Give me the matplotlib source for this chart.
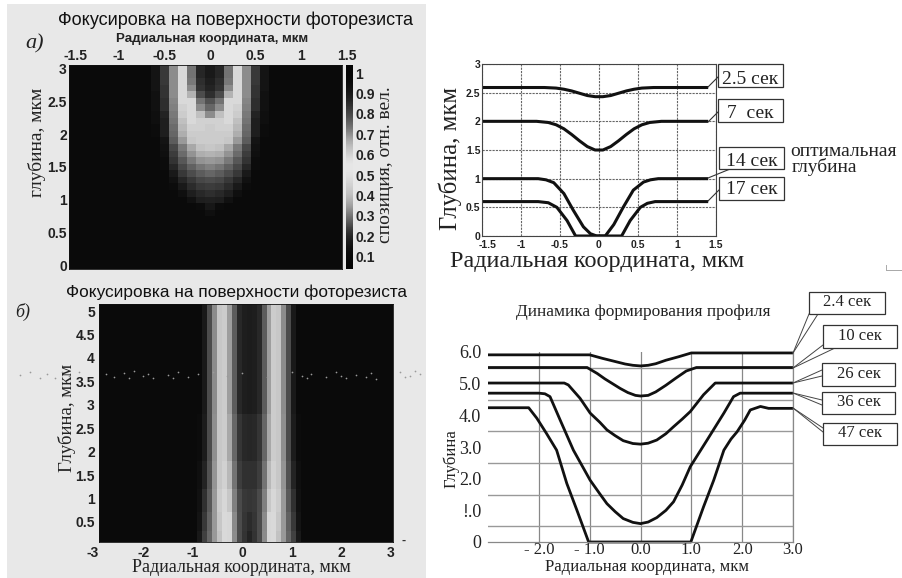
import numpy as np
import matplotlib
matplotlib.use('Agg')
import matplotlib.pyplot as plt
from matplotlib.patches import Rectangle
from matplotlib.transforms import ScaledTranslation

W, H = 902, 578
SANS = ['Liberation Sans', 'DejaVu Sans']
SERIF = ['Liberation Serif', 'DejaVu Serif']

TITLE_A = 'Фокусировка на поверхности фоторезиста'
TITLE_D = 'Динамика формирования профиля'
RADIAL = 'Радиальная координата, мкм'

# panel a: brightness, rows from depth 3.0 down, columns from centre outward
a_rows = [
    [.10, .15, .45, .85, .55, .22, .08],
    [.10, .15, .45, .85, .55, .22, .08],
    [.12, .18, .48, .85, .55, .22, .08],
    [.14, .20, .55, .85, .55, .20, .08],
    [.18, .30, .70, .85, .55, .20, .07],
    [.32, .45, .85, .85, .52, .18, .07],
    [.40, .55, .85, .82, .50, .18, .07],
    [.55, .75, .85, .80, .48, .14, .06],
    [.82, .82, .85, .75, .45, .12, .06],
    [.80, .82, .82, .72, .42, .12, .05],
    [.80, .80, .80, .68, .40, .12, .05],
    [.80, .80, .78, .60, .36, .08, .04],
    [.78, .76, .66, .48, .28, .07, .04],
    [.70, .68, .58, .42, .24, .06, .04],
    [.60, .58, .48, .34, .20, .05, .04],
    [.50, .46, .38, .28, .15, .05, .04],
    [.40, .36, .30, .22, .10, .04, .04],
    [.30, .28, .22, .15, .07, .04, .04],
    [.24, .22, .17, .10, .05, .04, .04],
    [.18, .16, .12, .06, .04, .04, .04],
    [.13, .12, .07, .04, .04, .04, .04],
    [.09, .05, .04, .04, .04, .04, .04],
    [.06, .04, .04, .04, .04, .04, .04],
]
dark_level = .04
a_ticks_x = [-1.5, -1, -0.5, 0, 0.5, 1, 1.5]
a_ticks_y = [0, 0.5, 1, 1.5, 2, 2.5, 3]

# colourbar: brightness from bottom to top, with its labels
cbar_gray = [.02, .03, .04, .06, .10, .15, .22, .32, .42, .52, .62, .70, .76, .80, .84, .88, .90,
             .90, .86, .80, .74, .66, .56, .46, .38, .30, .24, .18, .12, .08, .05, .03, .02, .02]
cbar_ticks = [.1, .2, .3, .4, .5, .6, .7, .8, .9, 1]

# panel b: depth bands (lower edge first) and half profiles from centre outward
b_edges = [0.07, 0.3, 0.7, 1.2, 1.8, 2.8, 5.15]
b_rows = [
    [.14, .20, .30, .55, .84, .85, .76, .60, .40, .25, .10],
    [.17, .21, .30, .54, .84, .85, .78, .60, .38, .22, .08],
    [.21, .22, .29, .50, .78, .84, .80, .60, .35, .19, .07],
    [.19, .19, .24, .45, .72, .82, .78, .58, .32, .14, .06],
    [.15, .16, .21, .40, .66, .80, .78, .56, .30, .11, .05],
    [.11, .12, .16, .36, .62, .80, .78, .55, .30, .10, .04],
]
b_ticks_x = [-3, -2, -1, 0, 1, 2, 3]
b_ticks_y = [0.5, 1, 1.5, 2, 2.5, 3, 3.5, 4, 4.5, 5]
speck_x = [-4.5, -4.3, -4.1, -3.95, -3.8, -3.65, -3.5, -3.3, -3.1, -2.75, -2.6, -2.4, -2.3, -2.2, -2.0, -1.9, -1.8,
           -1.5, -1.4, -1.3, -1.1, -0.9, -0.6, -0.3, 0.0, 0.5, 1.0, 1.2, 1.3, 1.4, 1.7, 1.9, 2.0, 2.1, 2.3, 2.5,
           2.6, 2.7, 3.2, 3.3, 3.4, 3.5, 3.6]
speck_y = [3.64, 3.7, 3.58, 3.66, 3.56, 3.7, 3.62, 3.7, 3.55, 3.66, 3.6, 3.68, 3.58, 3.72, 3.62, 3.66, 3.58,
           3.64, 3.56, 3.7, 3.6, 3.66, 3.7, 3.62, 3.68, 3.6, 3.7, 3.62, 3.56, 3.66, 3.6, 3.7, 3.62, 3.58, 3.64, 3.6,
           3.68, 3.55, 3.7, 3.6, 3.62, 3.72, 3.66]

# panel c: profiles
c_x = {
    '2.5': [-1.5, -0.7, -0.55, -0.45, -0.35, -0.25, -0.15, -0.05, 0.05, 0.15, 0.25, 0.35, 0.45, 0.55, 0.7, 1.4],
    '7': [-1.5, -0.8, -0.65, -0.55, -0.45, -0.35, -0.25, -0.15, -0.05, 0.05, 0.15, 0.25, 0.35, 0.45, 0.55, 0.65, 0.8, 1.4],
    '14': [-1.5, -0.78, -0.68, -0.58, -0.45, -0.33, -0.2, -0.11, -0.03, 0.08, 0.19, 0.31, 0.44, 0.57, 0.66, 0.76, 1.4],
    '17': [-1.5, -0.78, -0.65, -0.54, -0.41, -0.3, 0.29, 0.4, 0.53, 0.62, 0.72, 1.4],
}
c_y = {
    '2.5': [2.59, 2.59, 2.58, 2.56, 2.53, 2.49, 2.45, 2.43, 2.43, 2.45, 2.49, 2.53, 2.56, 2.58, 2.59, 2.59],
    '7': [2.0, 2.0, 1.98, 1.94, 1.87, 1.77, 1.66, 1.56, 1.5, 1.5, 1.56, 1.66, 1.77, 1.87, 1.94, 1.98, 2.0, 2.0],
    '14': [1.0, 1.0, 0.98, 0.93, 0.74, 0.45, 0.16, 0.04, 0, 0, 0.2, 0.5, 0.8, 0.94, 0.98, 1.0, 1.0],
    '17': [0.6, 0.6, 0.58, 0.5, 0.27, 0, 0, 0.27, 0.5, 0.57, 0.6, 0.6],
}
c_ticks_x = [-1.5, -1, -0.5, 0, 0.5, 1, 1.5]
c_ticks_y = [0, 0.5, 1, 1.5, 2, 2.5, 3]
c_labels = ['2.5 сек', '7  сек', '14 сек', '17 сек']

# panel d: profiles
d_x = {
    '2.4': [-3, -1, -0.75, -0.5, -0.3, -0.15, 0, 0.15, 0.3, 0.5, 0.75, 1, 3],
    '10': [-3, -1.05, -0.85, -0.7, -0.55, -0.4, -0.25, -0.1, 0, 0.15, 0.3, 0.5, 0.7, 0.9, 1.1, 3],
    '26': [-3, -1.5, -1.42, -1.19, -0.99, -0.8, -0.66, -0.5, -0.34, -0.15, 0, 0.15, 0.32, 0.5, 0.65, 0.82, 0.98, 1.24, 1.47, 3],
    '36': [-3, -2, -1.88, -1.78, -1.58, -1.32, -0.99, -0.8, -0.66, -0.5, -0.34, -0.15, 0, 0.15, 0.32, 0.5, 0.65, 0.82, 0.98,
           1.31, 1.64, 1.83, 1.96, 3],
    '47': [-3, -2.2, -2.04, -1.85, -1.65, -1.45, -1.25, -1.02, 0.99, 1.24, 1.44, 1.64, 1.78, 1.9, 2.05, 2.16, 2.36, 2.52, 3],
}
d_y = {
    '2.4': [5.91, 5.91, 5.8, 5.7, 5.62, 5.58, 5.56, 5.58, 5.63, 5.74, 5.85, 5.97, 5.97],
    '10': [5.51, 5.51, 5.32, 5.15, 5.0, 4.85, 4.72, 4.63, 4.61, 4.63, 4.74, 4.95, 5.18, 5.4, 5.51, 5.51],
    '26': [5.02, 5.02, 4.96, 4.54, 4.07, 3.78, 3.54, 3.36, 3.2, 3.11, 3.09, 3.12, 3.22, 3.42, 3.64, 3.88, 4.12, 4.65, 5.02, 5.02],
    '36': [4.7, 4.7, 4.68, 4.59, 3.85, 2.9, 1.95, 1.52, 1.21, 0.96, 0.74, 0.62, 0.58, 0.63, 0.77, 1.0, 1.27, 1.8, 2.38,
           3.22, 4.07, 4.59, 4.7, 4.7],
    '47': [4.24, 4.24, 3.91, 3.43, 2.9, 1.85, 1.0, 0, 0, 1.11, 1.95, 2.9, 3.25, 3.48, 3.85, 4.17, 4.28, 4.22, 4.22],
}
d_ticks_x = [-2, -1, 0, 1, 2, 3]
d_tick_labels_x = ['- 2.0', '- 1.0', '0.0', '1.0', '2.0', '3.0']
d_ticks_y = [0, 1, 2, 3, 4, 5, 6]
d_tick_labels_y = ['0', '!.0', '2.0', '3.0', '4.0', '5.0', '6.0']
d_grid_y = [0.5, 1, 1.5, 2, 2.5, 3, 3.5, 4, 4.5, 5, 5.5, 6]
d_labels = ['2.4 сек', '10 сек', '26 сек', '36 сек', '47 сек']


def px_axes(fig, x0, y0, x1, y1):
    return fig.add_axes([x0 / W, 1 - y1 / H, (x1 - x0) / W, (y1 - y0) / H])


def box(bg, x0, y0, x1, y1, label, dy=-1, size=11):
    bg.add_patch(Rectangle((x0, y0), x1 - x0, y1 - y0, fc='white', ec='#333333', lw=0.9, zorder=4))
    bg.text((x0 + x1) / 2, (y0 + y1) / 2 + dy, label, ha='center', va='center',
            family=SERIF, fontsize=size, color='#222222', zorder=5)


def shift_label(fig, label, px):
    label.set_transform(label.get_transform() + ScaledTranslation(px / 100, 0, fig.dpi_scale_trans))


fig = plt.figure(figsize=(W / 100, H / 100), dpi=100, facecolor='white')

# pixel-coordinate layer behind and in front of the charts
bg = fig.add_axes([0, 0, 1, 1], zorder=0)
bg.set_xlim(0, W)
bg.set_ylim(H, 0)
bg.axis('off')
bg.add_patch(Rectangle((7, 4), 419, 574, fc='#e8e8e8', ec='none'))
top = fig.add_axes([0, 0, 1, 1], zorder=5)
top.set_xlim(0, W)
top.set_ylim(H, 0)
top.axis('off')
top.patch.set_alpha(0)

# panel a
grid_a = np.full((31, 30), dark_level)
cols_a = np.arange(-15, 15)
for r, row in enumerate(a_rows):
    for c, k in enumerate(cols_a):
        if abs(k) < len(row):
            grid_a[r, c] = row[abs(k)]
ax = px_axes(fig, 69, 65, 342, 269)
ax.imshow(grid_a, cmap='gray', vmin=0, vmax=1, aspect='auto', interpolation='nearest',
          extent=[-1.55, 1.45, -0.05, 3.05])
ax.set_xlim(-1.55, 1.45)
ax.set_ylim(-0.05, 3.05)
ax.xaxis.tick_top()
ax.set_xticks(a_ticks_x[:-1] + [1.45])
ax.set_xticklabels(['-1.5', '-1', '-0.5', '0', '0.5', '1', '1.5'], family=SANS, fontsize=10, fontweight='bold', color='#222222')
ax.set_yticks(a_ticks_y)
ax.set_yticklabels(['0', '0.5', '1', '1.5', '2', '2.5', '3'], family=SANS, fontsize=10, fontweight='bold', color='#222222')
ax.tick_params(length=0, pad=1.5)
shift_label(fig, ax.get_xticklabels()[-1], 5)
shift_label(fig, ax.get_xticklabels()[0], 2)
for s in ax.spines.values():
    s.set_color('#111111')
    s.set_linewidth(0.6)

cax = px_axes(fig, 346, 65, 353, 269)
cax.imshow(np.array(cbar_gray)[::-1].reshape(-1, 1), cmap='gray', vmin=0, vmax=1, aspect='auto',
           extent=[0, 1, 0.04, 1.04], interpolation='bilinear')
cax.set_xticks([])
cax.yaxis.tick_right()
cax.set_yticks(cbar_ticks)
cax.set_yticklabels(['0.1', '0.2', '0.3', '0.4', '0.5', '0.6', '0.7', '0.8', '0.9', '1'], family=SANS, fontsize=10,
                    fontweight='bold', color='#222222')
cax.tick_params(length=0, pad=1.5)
for s in cax.spines.values():
    s.set_visible(False)

top.text(235, 20, TITLE_A, ha='center', va='center', family=SANS, fontsize=13, color='#111111')
top.text(212, 39, RADIAL, ha='center', va='center', family=SANS, fontsize=9.5, fontweight='bold', color='#222222')
top.text(35, 44, 'а)', ha='center', va='center', family=SERIF, style='italic', fontsize=16, color='#222222')
top.text(37, 142, 'глубина, мкм', ha='center', va='center', rotation=90, family=SERIF, fontsize=14, color='#222222')
top.text(385, 165, 'спозиция, отн. вел.', ha='center', va='center', rotation=90, family=SERIF, fontsize=14, color='#222222')

# panel b
grid_b = np.full((len(b_rows), 60), dark_level)
cols_b = np.arange(-30, 30)
for r, row in enumerate(b_rows):
    for c, k in enumerate(cols_b):
        if abs(k) < len(row):
            grid_b[r, c] = row[abs(k)]
ax = px_axes(fig, 99, 304, 393, 542)
ax.pcolormesh(np.linspace(-2.91, 3.09, 61), b_edges, grid_b, cmap='gray', vmin=0, vmax=1, shading='flat')
ax.set_xlim(-2.9, 3.05)
ax.set_ylim(0.07, 5.15)
ax.set_xticks([-2.9, -2, -1, 0, 1, 2, 3])
ax.set_xticklabels(['-3', '-2', '-1', '0', '1', '2', '3'], family=SANS, fontsize=10, fontweight='bold', color='#222222')
ax.set_yticks(b_ticks_y)
ax.set_yticklabels(['0.5', '1', '1.5', '2', '2.5', '3', '3.5', '4', '4.5', '5'], family=SANS, fontsize=10, fontweight='bold', color='#222222')
ax.tick_params(length=0, pad=3)
shift_label(fig, ax.get_xticklabels()[0], -6)
for s in ax.spines.values():
    s.set_color('#111111')
    s.set_linewidth(0.6)
ax.scatter(speck_x, speck_y, s=1.5, c='#9a9a9a', linewidths=0, clip_on=False, zorder=3)

top.text(237, 292, TITLE_A, ha='center', va='center', family=SANS, fontsize=12.4, color='#111111')
top.text(241, 567, RADIAL, ha='center', va='center', family=SERIF, fontsize=13, color='#222222')
top.text(23, 312, 'б)', ha='center', va='center', family=SERIF, style='italic', fontsize=13, color='#222222')
top.text(67, 418, 'Глубина, мкм', ha='center', va='center', rotation=90, family=SERIF, fontsize=13.5, color='#222222')
top.text(404, 541, '-', ha='center', va='center', family=SANS, fontsize=9, fontweight='bold', color='#333333')

# panel c
ax = px_axes(fig, 482, 64, 716, 236)
ax.set_xlim(-1.5, 1.5)
ax.set_ylim(0, 3)
ax.grid(True, color='#666666', lw=0.8, ls=(0, (2, 1)))
ax.set_axisbelow(True)
for key in c_x:
    ax.plot(c_x[key], c_y[key], color='#111111', lw=2.2, solid_capstyle='butt', solid_joinstyle='round')
ax.set_xticks(c_ticks_x)
ax.set_xticklabels(['-1.5', '-1', '-0.5', '0', '0.5', '1', '1.5'], family=SANS, fontsize=7.5, fontweight='bold', color='#222222')
ax.set_yticks(c_ticks_y)
ax.set_yticklabels(['0', '0.5', '1', '1.5', '2', '2.5', '3'], family=SANS, fontsize=7.5, fontweight='bold', color='#222222')
ax.tick_params(length=0, pad=1)
ax.tick_params(axis='x', pad=3)
shift_label(fig, ax.get_xticklabels()[0], 6)
for s in ax.spines.values():
    s.set_color('#444444')
    s.set_linewidth(0.8)

c_boxes = [(718, 64, 783, 87), (718, 99, 783, 122), (719, 147, 784, 169), (719, 177, 784, 200)]
c_tips = [(718, 77), (718, 112), (735, 167), (719, 190)]
c_dy = [4, 3, 4, 1]
for b, label, end, tip, dy in zip(c_boxes, c_labels, [87, 122, 178, 201], c_tips, c_dy):
    top.plot([708, tip[0]], [end, tip[1]], color='#333333', lw=0.8, zorder=3)
    box(top, *b, label, dy=dy, size=14)
top.text(790, 151, 'оптимальная', ha='left', va='center', family=SERIF, fontsize=14, color='#222222')
top.text(792, 167, 'глубина', ha='left', va='center', family=SERIF, fontsize=14, color='#222222')
top.text(450, 158, 'Глубина, мкм', ha='center', va='center', rotation=90, family=SERIF, fontsize=17.8, color='#222222')
top.text(597, 262, RADIAL, ha='center', va='center', family=SERIF, fontsize=17.4, color='#222222')
top.plot([886, 901, 886, 886], [270, 270, 270, 265], color='#aaaaaa', lw=0.7)

# panel d
ax = px_axes(fig, 488, 352, 793, 542)
ax.set_xlim(-3, 3)
ax.set_ylim(0, 6)
ax.set_axisbelow(True)
ax.set_yticks(d_grid_y, minor=True)
ax.grid(True, which='minor', axis='y', color='#999999', lw=1.0)
ax.set_xticks(d_ticks_x)
ax.grid(True, which='major', axis='x', color='#888888', lw=0.9)
for key in d_x:
    ax.plot(d_x[key], d_y[key], color='#111111', lw=2.0, solid_capstyle='butt', solid_joinstyle='round', clip_on=False)
ax.set_xticklabels(d_tick_labels_x, family=SERIF, fontsize=12, color='#222222')
ax.set_yticks(d_ticks_y)
ax.set_yticklabels(d_tick_labels_y, family=SERIF, fontsize=13, color='#222222')
ax.tick_params(which='both', length=0)
ax.tick_params(axis='x', pad=0)
ax.tick_params(axis='y', pad=5)
for name, s in ax.spines.items():
    s.set_visible(name in ('right', 'bottom'))
    s.set_color('#888888')
    s.set_linewidth(0.9)

d_boxes = [(809, 292, 885, 314), (823, 325, 897, 348), (822, 363, 895, 386), (822, 392, 895, 414), (823, 423, 897, 445)]
d_ends = [353, 368, 383, 393, 408]
d_tips = [((809, 314), (818, 314)), ((823, 345), (835, 348)), ((822, 370), (822, 376)), ((822, 400), (822, 405)), ((823, 428), (823, 432))]
for b, label, end, tips in zip(d_boxes, d_labels, d_ends, d_tips):
    for tip in tips:
        top.plot([793, tip[0]], [end, tip[1]], color='#444444', lw=0.7, zorder=3)
    box(top, *b, label, size=12)
top.text(643, 312, TITLE_D, ha='center', va='center', family=SERIF, fontsize=12.5, color='#222222')
top.text(451, 459, 'Глубина', ha='center', va='center', rotation=90, family=SERIF, fontsize=12, color='#222222')
top.text(647, 567, RADIAL, ha='center', va='center', family=SERIF, fontsize=12, color='#222222')

fig.savefig('out.png', dpi=100)
plt.close(fig)
